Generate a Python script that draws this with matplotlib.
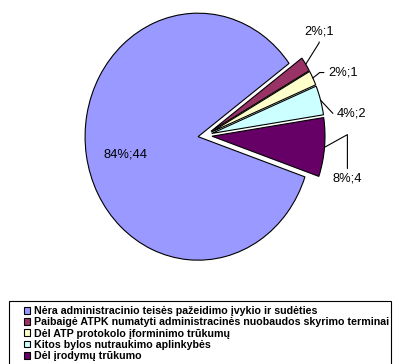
import matplotlib
matplotlib.use('Agg')
import matplotlib.pyplot as plt
from matplotlib.patches import Rectangle
import numpy as np

plt.rcParams['font.family'] = ['Liberation Sans', 'DejaVu Sans']

# Bylų nutraukimo priežastys
categories = [
    'Nėra administracinio teisės pažeidimo įvykio ir sudėties',
    'Paibaigė ATPK numatyti administracinės nuobaudos skyrimo terminai',
    'Dėl ATP protokolo įforminimo trūkumų',
    'Kitos bylos nutraukimo aplinkybės',
    'Dėl įrodymų trūkumo',
]
counts = [44, 1, 1, 2, 4]
colors = ['#9999FF', '#993366', '#FFFFCC', '#CCFFFF', '#660066']

# label placement (axes data units) and leader line angles (text side, wedge side)
label_pos = [(-0.70, -0.15), (1.01, 0.84), (1.22, 0.51), (1.30, 0.18), (1.26, -0.35)]
leader_angles = [None, (90, 58), (0, 39), (0, -47), (90, 29)]


def percents(vals):
    # largest remainder so that the labels add up to 100
    raw = np.array(vals, dtype=float) / sum(vals) * 100
    out = np.floor(raw).astype(int)
    order = np.argsort(-(raw - out))
    for k in order[:100 - out.sum()]:
        out[k] += 1
    return out


fig = plt.figure(figsize=(3.95, 3.64), dpi=100)
ax = fig.add_axes([0.2043, 0.2545, 0.6294, 0.7464])

explode = 0.062
wedges, _ = ax.pie(counts, colors=colors, startangle=-19, counterclock=False,
                   explode=[explode] * len(counts),
                   wedgeprops=dict(edgecolor='black', linewidth=0.8))
ax.set_aspect('auto')
ax.set_xlim(-1.1, 1.1)
ax.set_ylim(-1.1, 1.1)

pct = percents(counts)
for i, (w, n) in enumerate(zip(wedges, counts)):
    txt = '%d%%;%d' % (pct[i], n)
    tx, ty = label_pos[i]
    if leader_angles[i] is None:
        ax.text(tx, ty, txt, ha='center', va='center', fontsize=9.3)
        continue
    mid = np.deg2rad((w.theta1 + w.theta2) / 2)
    ex, ey = (1 + explode) * np.cos(mid), (1 + explode) * np.sin(mid)
    a, b = leader_angles[i]
    ax.annotate(txt, xy=(ex, ey), xytext=(tx, ty), ha='center', va='center',
                fontsize=9.3, annotation_clip=False,
                arrowprops=dict(arrowstyle='-', color='black', lw=0.8,
                                shrinkA=1, shrinkB=0,
                                connectionstyle='angle,angleA=%d,angleB=%d,rad=0' % (a, b)))

# legenda
fig.patches.append(Rectangle((9 / 395, -0.05), 382 / 395, 1 - 301 / 364 + 0.05,
                             transform=fig.transFigure, fill=False,
                             edgecolor='black', linewidth=0.8))
fig.legend(wedges, categories, loc='upper left',
           bbox_to_anchor=(24 / 395, 1 - 306 / 364), frameon=False,
           prop=dict(weight='bold', size=7.7), borderpad=0, borderaxespad=0,
           handlelength=0.6, handleheight=0.6, handletextpad=0.35,
           labelspacing=0.12)

fig.savefig('out.png', dpi=100)
